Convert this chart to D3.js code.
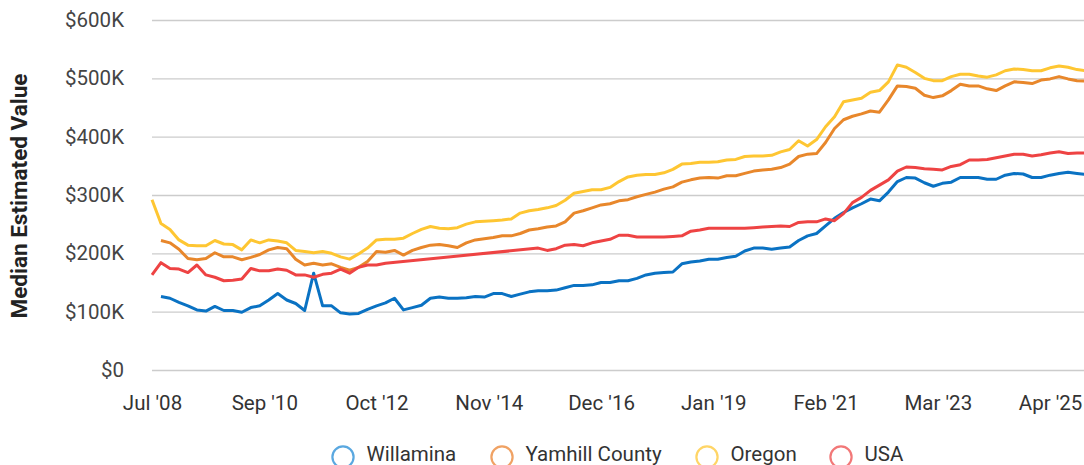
<!DOCTYPE html>
<html>
<head>
<meta charset="utf-8">
<script src="https://cdn.jsdelivr.net/npm/d3@7"></script>
<style>
  body { margin: 0; background: #fff; }
  svg { display: block; font-family: Roboto, "Noto Sans", sans-serif; }
</style>
</head>
<body>
<script>
// Tick labels on the x axis (one every 25 months, Jul 2008 = month 0)
var tickLabels = ["Jul '08", "Sep '10", "Oct '12", "Nov '14", "Dec '16", "Jan '19", "Feb '21", "Mar '23", "Apr '25"];
var tickMonths = [0, 25, 50, 75, 100, 125, 150, 175, 200];

// Series names + colours
var seriesNames = ["Willamina", "Yamhill County", "Oregon", "USA"];
var lineColors = ["#0a72c3", "#e8872b", "#fec632", "#ee4343"];
var legendColors = ["#5aa8e0", "#f0a264", "#ffd566", "#f27878"];

// Values in $K, one every 2 months from Jul 2008
var willamina = [null,126,123,116,110,103,101,109,102,102,
  99,107,110,120,131,120,114,102,166,110,
  110,98,96,97,104,110,115,123,103,107,
  111,123,125,123,123,124,126,125,131,131,
  126,130,134,136,136,137,141,145,145,146,
  150,150,153,153,157,163,166,167,168,182,
  185,187,190,190,193,195,204,209,209,207,
  209,211,222,230,234,247,260,270,278,285,
  293,290,305,323,330,329,321,315,320,322,
  330,330,330,327,327,334,337,336,330,330,
  334,337,339,337,335];

var yamhill = [null,222,218,207,191,189,191,201,194,194,
  189,193,198,206,210,208,190,180,183,180,
  182,176,171,176,186,203,202,205,197,205,
  210,214,215,213,210,218,223,225,227,230,
  230,234,240,242,245,247,254,269,273,278,
  283,285,290,292,297,301,305,310,314,322,
  326,329,330,329,333,333,337,341,343,344,
  347,353,366,370,371,390,414,429,435,439,
  444,442,463,487,486,483,471,467,470,479,
  490,487,487,482,479,487,494,493,491,497,
  499,503,499,496,495];

var oregon = [292,251,241,223,214,213,213,222,216,215,
  206,223,218,223,221,218,205,203,201,203,
  200,194,190,199,209,223,224,224,226,234,
  241,246,243,242,244,250,254,255,256,257,
  259,269,273,275,278,282,291,303,306,309,
  309,313,323,331,334,335,335,338,344,353,
  354,356,356,357,360,361,366,367,367,368,
  374,378,393,384,395,417,434,460,463,466,
  476,479,494,523,519,510,500,496,496,503,
  507,507,504,502,506,513,516,515,513,513,
  518,521,519,515,513];

var usa = [163,184,174,173,167,180,163,159,153,154,
  156,174,170,170,173,171,163,163,159,164,
  166,173,166,176,180,180,183,null,null,null,
  null,null,null,null,null,null,null,null,null,null,
  null,null,null,209,205,208,214,215,213,218,
  221,224,231,231,228,228,228,228,229,230,
  238,240,243,243,243,243,243,244,245,246,
  247,246,253,254,254,259,256,268,287,296,
  308,317,326,341,348,347,345,344,343,349,
  352,360,360,361,364,367,370,370,367,369,
  372,374,371,372,372];

var allSeries = [willamina, yamhill, oregon, usa];

var width = 1084, height = 465;

var svg = d3.select("body").append("svg")
    .attr("width", width)
    .attr("height", height);

var x = d3.scaleLinear().domain([0, 208]).range([152, 1086]);
var y = d3.scaleLinear().domain([0, 600]).range([370, 20]);

// gridlines
svg.append("g")
    .attr("class", "grid")
    .attr("transform", "translate(152,0)")
    .call(d3.axisLeft(y).tickValues([0,100,200,300,400,500,600]).tickSize(-(width - 152)).tickFormat(""))
    .call(function(g) { g.select(".domain").remove(); })
    .selectAll("line")
    .attr("stroke", "#cccccc")
    .attr("stroke-width", 1.3);

// y tick labels
svg.append("g")
    .attr("transform", "translate(124,0)")
    .call(d3.axisLeft(y).tickValues([0,100,200,300,400,500,600]).tickSize(0)
        .tickFormat(function(d) { return d === 0 ? "$0" : "$" + d + "K"; }))
    .call(function(g) { g.select(".domain").remove(); })
    .selectAll("text")
    .attr("x", 0)
    .attr("fill", "#444")
    .style("font-size", "20.5px")
    .style("font-family", "Roboto, sans-serif");

// x tick labels
svg.append("g")
    .call(d3.axisBottom(x).tickValues(tickMonths).tickSize(0)
        .tickFormat(function(d, i) { return tickLabels[i]; }))
    .call(function(g) { g.select(".domain").remove(); })
    .selectAll("text")
    .attr("y", 410)
    .attr("dy", 0)
    .attr("fill", "#333")
    .style("font-size", "20.5px")
    .style("font-family", "Roboto, sans-serif");

// y axis title
svg.append("text")
    .attr("transform", "translate(27,196) rotate(-90)")
    .attr("text-anchor", "middle")
    .attr("fill", "#222")
    .style("font-size", "22.5px")
    .style("font-weight", "bold")
    .text("Median Estimated Value");

// lines
var line = d3.line()
    .x(function(d) { return x(d[0]); })
    .y(function(d) { return y(d[1]); });

allSeries.forEach(function(vals, s) {
    var pts = [];
    vals.forEach(function(v, i) { if (v !== null) pts.push([i * 2, v]); });
    svg.append("path")
        .datum(pts)
        .attr("fill", "none")
        .attr("stroke", lineColors[s])
        .attr("stroke-width", 3)
        .attr("stroke-linejoin", "round")
        .attr("d", line);
});

// legend
var legendX = [343, 502, 707, 841];
var legend = svg.selectAll(".legend")
    .data(seriesNames)
    .enter().append("g")
    .attr("class", "legend")
    .attr("transform", function(d, i) { return "translate(" + legendX[i] + ",457)"; });

legend.append("circle")
    .attr("r", 10.6)
    .attr("fill", "none")
    .attr("stroke", function(d, i) { return legendColors[i]; })
    .attr("stroke-width", 2.2);

legend.append("text")
    .attr("x", 23.5)
    .attr("y", 4)
    .attr("fill", "#333")
    .style("font-size", "20.5px")
    .text(function(d) { return d; });
</script>
</body>
</html>
